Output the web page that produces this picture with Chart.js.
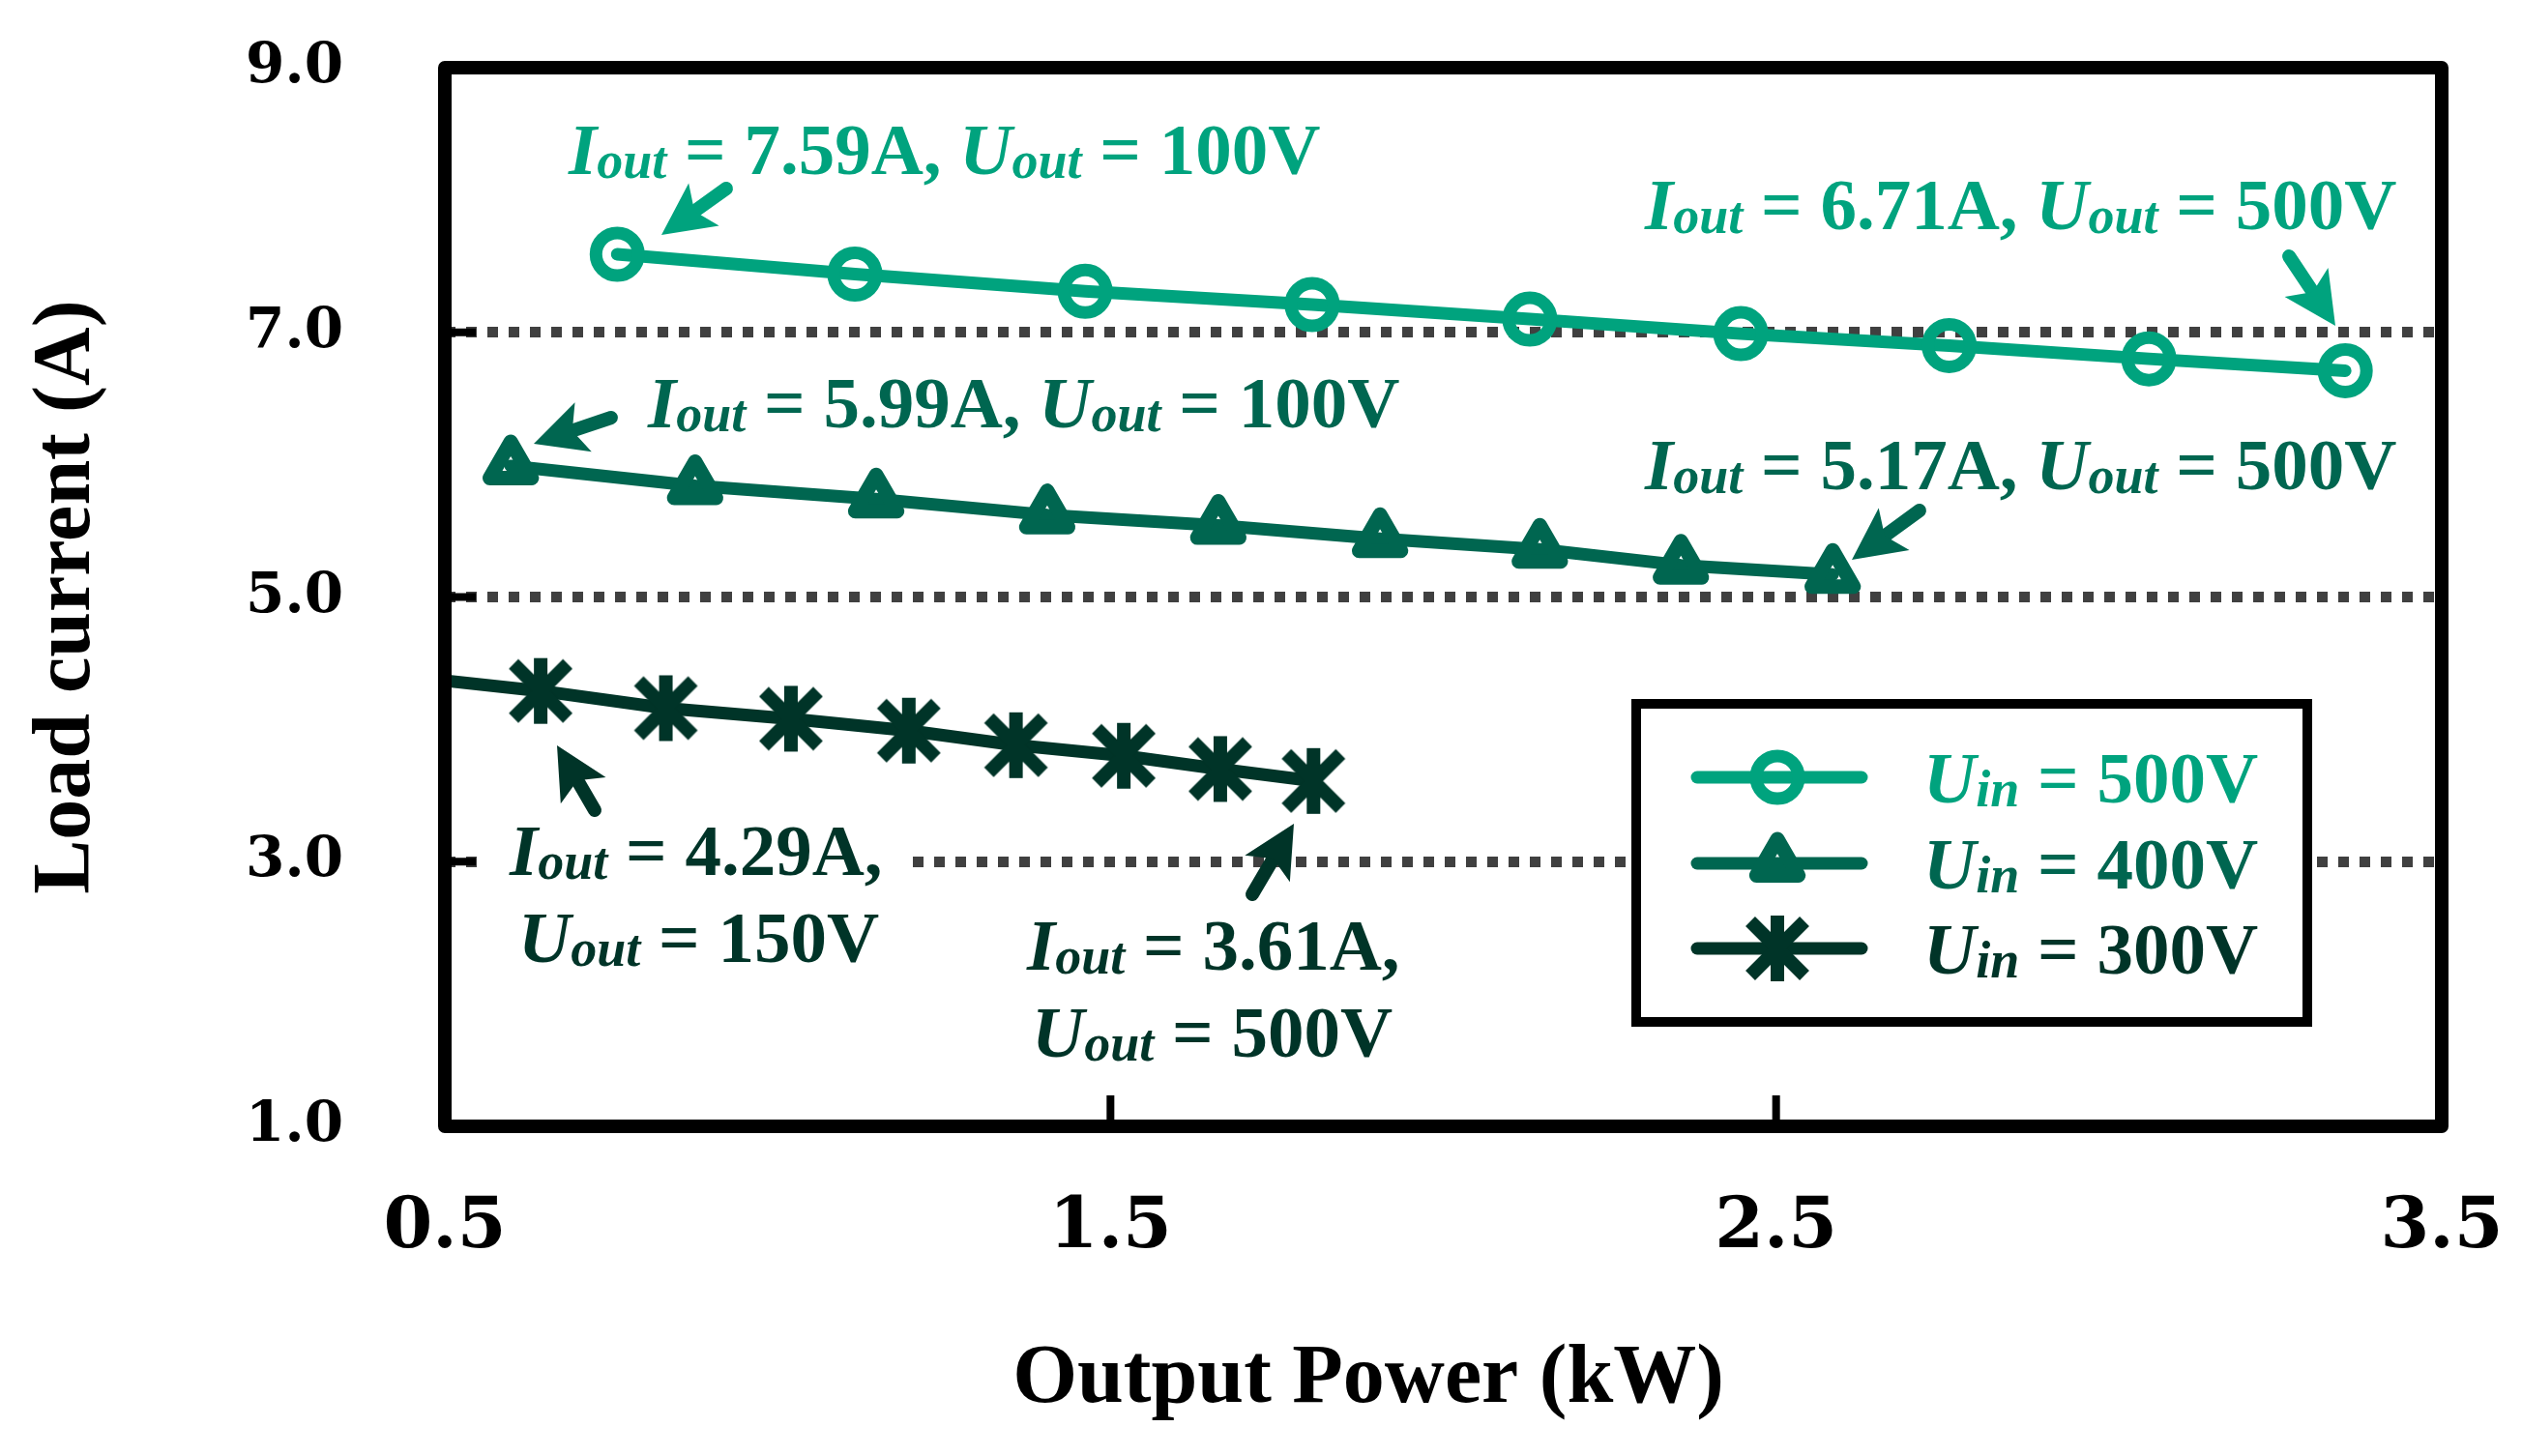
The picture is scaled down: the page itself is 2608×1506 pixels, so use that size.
<!DOCTYPE html>
<html>
<head>
<meta charset="utf-8">
<script src="https://cdn.jsdelivr.net/npm/chart.js@4/dist/chart.umd.min.js"></script>
<style>
  html, body { margin: 0; padding: 0; background: #fff; }
</style>
</head>
<body>
<canvas id="LoadCurrent" width="2608" height="1506"></canvas>
<script>
// Output power (kW) and load current (A) for each input voltage
var powerU500 = [0.759, 1.116, 1.462, 1.803, 2.130, 2.447, 2.760, 3.060, 3.355];
var currentU500 = [7.59, 7.44, 7.31, 7.21, 7.10, 6.99, 6.90, 6.80, 6.71];
var powerU400 = [0.599, 0.876, 1.148, 1.405, 1.662, 1.905, 2.145, 2.357, 2.585];
var currentU400 = [5.99, 5.84, 5.74, 5.62, 5.54, 5.44, 5.36, 5.24, 5.17];
var powerU300 = [0.440, 0.644, 0.832, 1.020, 1.197, 1.358, 1.520, 1.665, 1.805];
var currentU300 = [4.40, 4.29, 4.16, 4.08, 3.99, 3.88, 3.80, 3.70, 3.61];

var inputVoltages = ["500", "400", "300"];
var lineColors = ["#00a37e", "#006650", "#003428"];
var xTicks = [0.5, 1.5, 2.5, 3.5];
var yTicks = [1, 3, 5, 7, 9];

// annotation values: current, output voltage
var noteCurrent = ["7.59", "6.71", "5.99", "5.17", "4.29", "3.61"];
var noteVoltage = ["100", "500", "100", "500", "150", "500"];

var textFont = '"Liberation Serif", "Times New Roman", serif';
var tickFont = '"DejaVu Serif", serif';

function toPoints(xs, ys) {
    return xs.map(function (x, i) { return { x: x, y: ys[i] }; });
}

function makeStar(color) {
    var c = document.createElement("canvas");
    c.width = 84; c.height = 84;
    var g = c.getContext("2d");
    g.strokeStyle = color;
    g.lineWidth = 14;
    g.beginPath();
    g.moveTo(42, 8); g.lineTo(42, 76);
    g.moveTo(14, 14); g.lineTo(70, 70);
    g.moveTo(70, 14); g.lineTo(14, 70);
    g.stroke();
    return c;
}
var starImg = makeStar(lineColors[2]);

function drawRich(ctx, parts, x, y, size, color, measureOnly) {
    var cx = x;
    parts.forEach(function (p) {
        var s = p.sub ? size * 0.72 : size;
        ctx.font = (p.it ? "italic " : "") + "bold " + s + "px " + textFont;
        if (!measureOnly) {
            ctx.fillStyle = color;
            ctx.fillText(p.t, cx, y + (p.sub ? size * 0.05 : 0));
        }
        cx += ctx.measureText(p.t).width;
    });
    return cx - x;
}

function partI(i, tail) {
    return [{ t: "I", it: true }, { t: "out", it: true, sub: true }, { t: " = " + noteCurrent[i] + "A," + (tail || "") }];
}
function partU(i) {
    return [{ t: "U", it: true }, { t: "out", it: true, sub: true }, { t: " = " + noteVoltage[i] + "V" }];
}

function drawArrow(ctx, x1, y1, x2, y2, color) {
    var dx = x2 - x1, dy = y2 - y1;
    var len = Math.sqrt(dx * dx + dy * dy);
    var ux = dx / len, uy = dy / len;
    var hl = 54, hw = 27;
    var bx = x2 - ux * hl, by = y2 - uy * hl;
    ctx.save();
    ctx.strokeStyle = color;
    ctx.fillStyle = color;
    ctx.lineWidth = 14;
    ctx.lineCap = "round";
    ctx.beginPath();
    ctx.moveTo(x1, y1);
    ctx.lineTo(bx + ux * 10, by + uy * 10);
    ctx.stroke();
    ctx.beginPath();
    ctx.moveTo(x2, y2);
    ctx.lineTo(bx - uy * hw, by + ux * hw);
    ctx.lineTo(bx + ux * 12, by + uy * 12);
    ctx.lineTo(bx + uy * hw, by - ux * hw);
    ctx.closePath();
    ctx.fill();
    ctx.restore();
}

var notesPlugin = {
    id: "notes",
    beforeDatasetsDraw: function (chart) {
        chart.ctx.save();
        chart.ctx.lineJoin = "round";
    },
    afterDatasetsDraw: function (chart) {
        var ctx = chart.ctx;
        ctx.restore();
        ctx.save();
        ctx.textBaseline = "alphabetic";
        ctx.textAlign = "left";
        var S = 75;
        var notes = [
            { parts: partI(0, " ").concat(partU(0)), x: 588, y: 180, c: lineColors[0] },
            { parts: partI(1, " ").concat(partU(1)), x: 1701, y: 237, c: lineColors[0] },
            { parts: partI(2, " ").concat(partU(2)), x: 670, y: 442, c: lineColors[1] },
            { parts: partI(3, " ").concat(partU(3)), x: 1701, y: 506, c: lineColors[1] },
            { parts: partI(4), x: 527, y: 905, c: lineColors[2], bg: true },
            { parts: partU(4), x: 536, y: 995, c: lineColors[2] },
            { parts: partI(5), x: 1062, y: 1003, c: lineColors[2] },
            { parts: partU(5), x: 1067, y: 1093, c: lineColors[2] }
        ];
        notes.forEach(function (n) {
            if (n.bg) {
                var w = drawRich(ctx, n.parts, n.x, n.y, S, n.c, true);
                ctx.fillStyle = "#fff";
                ctx.fillRect(n.x - 32, n.y - 62, w + 62, 84);
            }
            drawRich(ctx, n.parts, n.x, n.y, S, n.c);
        });

        drawArrow(ctx, 751, 195, 684, 243, lineColors[0]);
        drawArrow(ctx, 2367, 265, 2415, 337, lineColors[0]);
        drawArrow(ctx, 632, 432, 552, 459, lineColors[1]);
        drawArrow(ctx, 1985, 528, 1915, 579, lineColors[1]);
        drawArrow(ctx, 615, 838, 576, 771, lineColors[2]);
        drawArrow(ctx, 1295, 925, 1338, 852, lineColors[2]);

        // legend box
        ctx.fillStyle = "#fff";
        ctx.fillRect(1692, 728, 694, 329);
        ctx.strokeStyle = "#000";
        ctx.lineWidth = 10;
        ctx.strokeRect(1692, 728, 694, 329);
        var rows = [804, 893, 981];
        chart.data.datasets.forEach(function (ds, i) {
            var y = rows[i];
            ctx.strokeStyle = ds.borderColor;
            ctx.lineWidth = 13;
            ctx.lineCap = "round";
            ctx.beginPath();
            ctx.moveTo(1755, y);
            ctx.lineTo(1925, y);
            ctx.stroke();
            var mx = 1838;
            ctx.lineWidth = ds.pointBorderWidth;
            ctx.lineJoin = "round";
            if (ds.pointStyle === "circle") {
                ctx.beginPath();
                ctx.arc(mx, y, ds.pointRadius, 0, Math.PI * 2);
                ctx.stroke();
            } else if (ds.pointStyle === "triangle") {
                var r = ds.pointRadius, a = 0;
                ctx.beginPath();
                ctx.moveTo(mx + Math.sin(a) * r, y - Math.cos(a) * r);
                a += 2 * Math.PI / 3;
                ctx.lineTo(mx + Math.sin(a) * r, y - Math.cos(a) * r);
                a += 2 * Math.PI / 3;
                ctx.lineTo(mx + Math.sin(a) * r, y - Math.cos(a) * r);
                ctx.closePath();
                ctx.stroke();
            } else {
                ctx.drawImage(ds.pointStyle, mx - 42, y - 42);
            }
            drawRich(ctx, [{ t: "U", it: true }, { t: "in", it: true, sub: true }, { t: " = " + inputVoltages[i] + "V" }],
                1989, y + 26, S, ds.borderColor);
        });

        // x axis title, placed as in the source figure
        ctx.fillStyle = "#000";
        ctx.font = "bold 86px " + textFont;
        ctx.textAlign = "center";
        ctx.textBaseline = "alphabetic";
        ctx.fillText("Output Power (kW)", 1415, 1450);
        ctx.restore();
    },
    afterDraw: function (chart) {
        var ctx = chart.ctx, a = chart.chartArea;
        var xs = chart.scales.x, ys = chart.scales.y;
        ctx.save();
        ctx.strokeStyle = "#000";
        ctx.lineWidth = 8;
        ctx.beginPath();
        [3, 5, 7].forEach(function (v) {
            var py = ys.getPixelForValue(v);
            ctx.moveTo(a.left, py); ctx.lineTo(a.left + 32, py);
        });
        [1.5, 2.5].forEach(function (v) {
            var px = xs.getPixelForValue(v);
            ctx.moveTo(px, a.bottom); ctx.lineTo(px, a.bottom - 32);
        });
        ctx.stroke();
        ctx.lineWidth = 14;
        ctx.lineJoin = "round";
        ctx.strokeRect(a.left, a.top, a.right - a.left, a.bottom - a.top);
        ctx.restore();
    }
};

var ChartLoad = {
    type: "line",
    data: {
        datasets: [{
            label: "Uin = " + inputVoltages[0] + "V",
            data: toPoints(powerU500, currentU500),
            borderColor: lineColors[0],
            pointStyle: "circle",
            pointRadius: 22,
            pointBorderWidth: 13,
            pointBorderColor: lineColors[0],
            pointBackgroundColor: "rgba(0,0,0,0)"
        }, {
            label: "Uin = " + inputVoltages[1] + "V",
            data: toPoints(powerU400, currentU400),
            borderColor: lineColors[1],
            pointStyle: "triangle",
            pointRadius: 25,
            pointBorderWidth: 15,
            pointBorderColor: lineColors[1],
            pointBackgroundColor: "rgba(0,0,0,0)"
        }, {
            label: "Uin = " + inputVoltages[2] + "V",
            data: toPoints(powerU300, currentU300),
            borderColor: lineColors[2],
            pointStyle: starImg,
            pointRadius: 4,
            pointBorderWidth: 0,
            pointBorderColor: lineColors[2],
            pointBackgroundColor: lineColors[2],
            clip: 0
        }]
    },
    options: {
        responsive: false,
        animation: false,
        devicePixelRatio: 1,
        layout: { padding: { top: 70, right: 83, left: 0, bottom: 0 } },
        elements: {
            line: { borderWidth: 13, tension: 0, borderJoinStyle: "round", borderCapStyle: "round" }
        },
        plugins: { legend: { display: false }, tooltip: { enabled: false } },
        scales: {
            x: {
                type: "linear",
                min: xTicks[0],
                max: xTicks[xTicks.length - 1],
                afterFit: function (s) { s.height = 341; s.paddingLeft = 0; s.paddingRight = 0; s.paddingTop = 0; s.paddingBottom = 0; },
                afterBuildTicks: function (s) { s.ticks = xTicks.map(function (v) { return { value: v }; }); },
                grid: { display: false, drawTicks: false },
                border: { display: false },
                ticks: {
                    padding: 62,
                    color: "#000",
                    font: { family: tickFont, size: 73, weight: "bold" },
                    maxRotation: 0,
                    callback: function (v) { return Number(v).toFixed(1); }
                },
                title: { display: false }
            },
            y: {
                min: yTicks[0],
                max: yTicks[yTicks.length - 1],
                afterFit: function (s) { s.width = 460; s.paddingLeft = 0; s.paddingRight = 0; s.paddingTop = 0; s.paddingBottom = 0; },
                afterBuildTicks: function (s) { s.ticks = yTicks.map(function (v) { return { value: v }; }); },
                grid: {
                    drawTicks: false,
                    lineWidth: 11,
                    color: function (c) {
                        var v = c.tick && c.tick.value;
                        return (v === 3 || v === 5 || v === 7) ? "#404040" : "rgba(0,0,0,0)";
                    }
                },
                border: { display: false, dash: [11, 11] },
                ticks: {
                    padding: 105,
                    color: "#000",
                    font: { family: tickFont, size: 58, weight: "bold" },
                    callback: function (v) { return Number(v).toFixed(1); }
                },
                title: {
                    display: true,
                    text: "Load current (A)",
                    color: "#000",
                    font: { family: textFont, size: 84, weight: "bold" },
                    padding: { top: 20 }
                }
            }
        }
    },
    plugins: [notesPlugin]
};

var LoadCurrent = document.getElementById("LoadCurrent").getContext("2d");
window.LoadChart = new Chart(LoadCurrent, ChartLoad);
</script>
</body>
</html>
